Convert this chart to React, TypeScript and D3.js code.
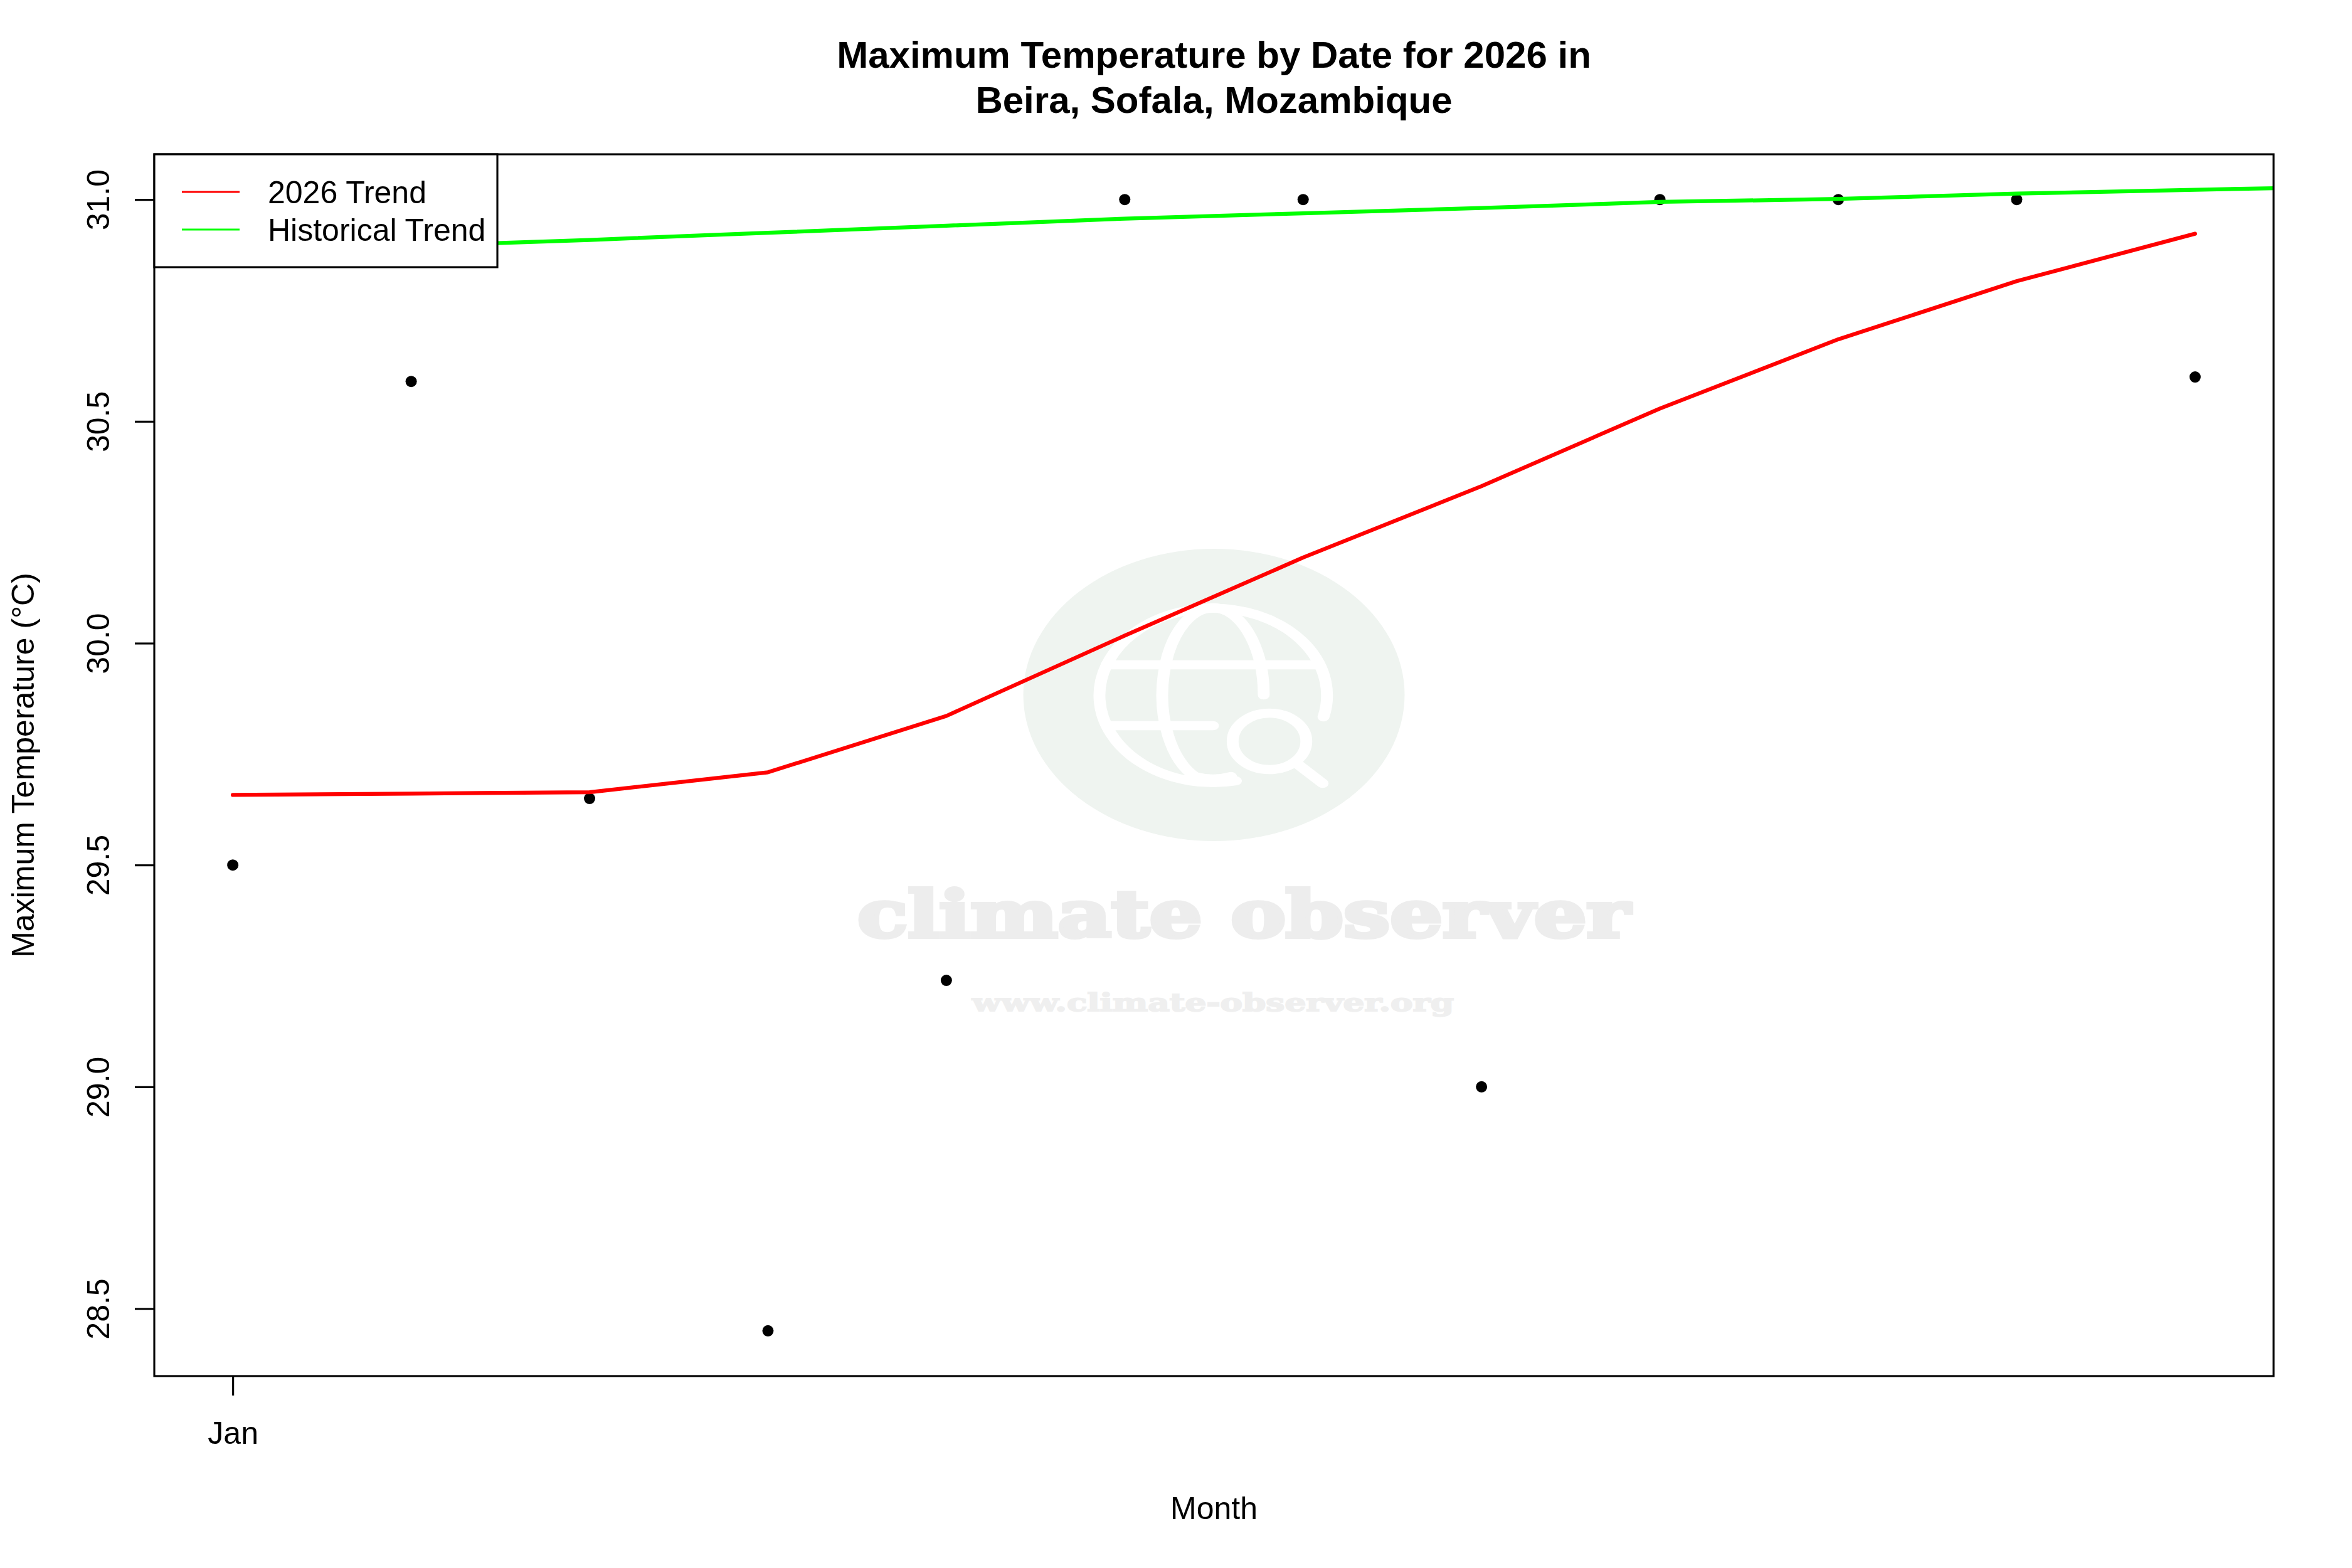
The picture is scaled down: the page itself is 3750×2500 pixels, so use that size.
import * as d3 from 'd3';
import { useEffect, useRef } from 'react';

const months = [1, 2, 3, 4, 5, 6, 7, 8, 9, 10, 11, 12];
const monthTicks = [1];
const monthLabels = ['Jan'];
const observed = [29.5, 30.59, 29.65, 28.45, 29.24, 31, 31, 29, 31, 31, 31, 30.6];
const trend2026 = [29.658, 29.661, 29.664, 29.709, 29.836, 30.017, 30.193, 30.354, 30.529, 30.685, 30.816, 30.923];
const historicalMonths = [0, 1, 2, 3, 4, 5, 6, 7, 8, 9, 10, 11, 12, 13];
const historicalTrend = [30.865, 30.88, 30.895, 30.909, 30.925, 30.941, 30.957, 30.969, 30.981, 30.9946, 31.0013, 31.0134, 31.022, 31.03];
const tempTicks = [28.5, 29, 29.5, 30, 30.5, 31];
const legendLabels = ['2026 Trend', 'Historical Trend'];
const legendColours = ['#ff0000', '#00ff00'];
const titleLines = ['Maximum Temperature by Date for 2026 in', 'Beira, Sofala, Mozambique'];

const width = 3750;
const height = 2500;
const margin = { top: 246, right: 125, bottom: 306, left: 246 };
const font = '"Liberation Sans", Arial, sans-serif';
const lwd = 3.125;

export default function App() {
  const ref = useRef<SVGSVGElement>(null);

  useEffect(() => {
    const svg = d3.select(ref.current);
    svg.selectAll('*').remove();
    svg.attr('font-family', font).attr('font-size', 50);

    const left = margin.left;
    const right = width - margin.right;
    const top = margin.top;
    const bottom = height - margin.bottom;
    const cx = (left + right) / 2;
    const cy = (top + bottom) / 2;

    const x = d3.scaleLinear([0.56, 12.44], [left, right]);
    const y = d3.scaleLinear([28.348, 31.102], [bottom, top]);

    svg.append('rect').attr('width', width).attr('height', height).attr('fill', '#ffffff');

    // watermark, the logo is squashed like the original image
    const mark = svg.append('g').attr('pointer-events', 'none');
    mark
      .append('ellipse')
      .attr('cx', cx)
      .attr('cy', cy - 112)
      .attr('rx', 304)
      .attr('ry', 233)
      .attr('fill', '#eff4f0');
    const globe = mark
      .append('g')
      .attr('transform', `translate(${cx - 1.5},${cy - 112}) scale(1.305,1)`)
      .attr('fill', 'none')
      .attr('stroke', '#ffffff')
      .attr('stroke-width', 14.5)
      .attr('stroke-linecap', 'round');
    [
      'M135,35 A139,139 0 1 0 28,137',
      'M62,0 A62,139 0 1 0 -22,130 Q0,138 22,130',
      'M-130,-48 L130,-48',
      'M-128,49 L0,49',
      'M104,111 L134,141',
    ].forEach((d) => globe.append('path').attr('d', d));
    globe.append('circle').attr('cx', 69).attr('cy', 74).attr('r', 45);

    mark
      .append('text')
      .attr('x', 1367)
      .attr('y', 1494)
      .attr('font-family', '"DejaVu Serif", serif')
      .attr('font-weight', 'bold')
      .attr('font-size', 102)
      .attr('textLength', 1232)
      .attr('lengthAdjust', 'spacingAndGlyphs')
      .attr('fill', '#ededed')
      .attr('stroke', '#ededed')
      .attr('stroke-width', 6)
      .text('climate observer');
    mark
      .append('text')
      .attr('x', 1550)
      .attr('y', 1612)
      .attr('font-family', '"DejaVu Serif", serif')
      .attr('font-weight', 'bold')
      .attr('font-size', 40)
      .attr('textLength', 768)
      .attr('lengthAdjust', 'spacingAndGlyphs')
      .attr('fill', '#efefef')
      .attr('stroke', '#efefef')
      .attr('stroke-width', 2)
      .text('www.climate-observer.org');

    // points
    svg
      .append('g')
      .selectAll('circle')
      .data(months)
      .join('circle')
      .attr('cx', (m) => x(m))
      .attr('cy', (_, i) => y(observed[i]))
      .attr('r', 9)
      .attr('fill', '#000000');

    // trend lines
    svg
      .append('clipPath')
      .attr('id', 'plot-area')
      .append('rect')
      .attr('x', left)
      .attr('y', top)
      .attr('width', right - left)
      .attr('height', bottom - top);

    const line = d3
      .line<number>()
      .x((m) => x(m));

    svg
      .append('path')
      .attr('d', line.y((_, i) => y(trend2026[i]))(months))
      .attr('fill', 'none')
      .attr('stroke', legendColours[0])
      .attr('stroke-width', lwd * 2)
      .attr('stroke-linecap', 'round')
      .attr('stroke-linejoin', 'round');

    svg
      .append('path')
      .attr('clip-path', 'url(#plot-area)')
      .attr('d', line.y((_, i) => y(historicalTrend[i]))(historicalMonths))
      .attr('fill', 'none')
      .attr('stroke', legendColours[1])
      .attr('stroke-width', lwd * 2);

    // axes
    const yAxis = svg
      .append('g')
      .attr('transform', `translate(${left},0)`)
      .call(d3.axisLeft(y).tickValues(tempTicks).tickSize(31).tickFormat(d3.format('.1f')));
    yAxis.select('.domain').remove();
    yAxis.selectAll('line').attr('stroke', '#000000').attr('stroke-width', lwd);
    yAxis
      .selectAll<SVGTextElement, number>('text')
      .attr('font-family', font)
      .attr('font-size', 50)
      .attr('fill', '#000000')
      .attr('dy', null)
      .attr('x', null)
      .attr('text-anchor', 'middle')
      .attr('transform', 'translate(-72,0) rotate(-90)');

    const xAxis = svg
      .append('g')
      .attr('transform', `translate(0,${bottom})`)
      .call(
        d3
          .axisBottom(x)
          .tickValues(monthTicks)
          .tickSize(31)
          .tickFormat((_, i) => monthLabels[i])
      );
    xAxis.select('.domain').remove();
    xAxis.selectAll('line').attr('stroke', '#000000').attr('stroke-width', lwd);
    xAxis
      .selectAll('text')
      .attr('font-family', font)
      .attr('font-size', 50)
      .attr('fill', '#000000')
      .attr('dy', null)
      .attr('y', 108);

    svg
      .append('rect')
      .attr('x', left)
      .attr('y', top)
      .attr('width', right - left)
      .attr('height', bottom - top)
      .attr('fill', 'none')
      .attr('stroke', '#000000')
      .attr('stroke-width', lwd);

    // legend
    const legend = svg.append('g');
    legend
      .append('rect')
      .attr('x', left)
      .attr('y', top)
      .attr('width', 547)
      .attr('height', 180)
      .attr('fill', '#ffffff')
      .attr('stroke', '#000000')
      .attr('stroke-width', lwd);
    legendLabels.forEach((label, i) => {
      legend
        .append('line')
        .attr('x1', 290)
        .attr('x2', 382)
        .attr('y1', 306 + i * 60)
        .attr('y2', 306 + i * 60)
        .attr('stroke', legendColours[i])
        .attr('stroke-width', lwd);
      legend
        .append('text')
        .attr('x', 427)
        .attr('y', 324 + i * 60)
        .attr('fill', '#000000')
        .text(label);
    });

    // titles
    svg
      .append('g')
      .selectAll('text')
      .data(titleLines)
      .join('text')
      .attr('x', cx)
      .attr('y', (_, i) => 108 + i * 72)
      .attr('text-anchor', 'middle')
      .attr('font-weight', 'bold')
      .attr('font-size', 60)
      .attr('fill', '#000000')
      .text((d) => d);

    svg
      .append('text')
      .attr('x', cx)
      .attr('y', 2422)
      .attr('text-anchor', 'middle')
      .attr('fill', '#000000')
      .text('Month');

    svg
      .append('text')
      .attr('transform', `translate(54,${cy}) rotate(-90)`)
      .attr('text-anchor', 'middle')
      .attr('fill', '#000000')
      .text('Maximum Temperature (°C)');
  }, []);

  return (
    <svg
      ref={ref}
      width={width}
      height={height}
      viewBox={`0 0 ${width} ${height}`}
      style={{ position: 'absolute', top: 0, left: 0, display: 'block' }}
    ></svg>
  );
}
